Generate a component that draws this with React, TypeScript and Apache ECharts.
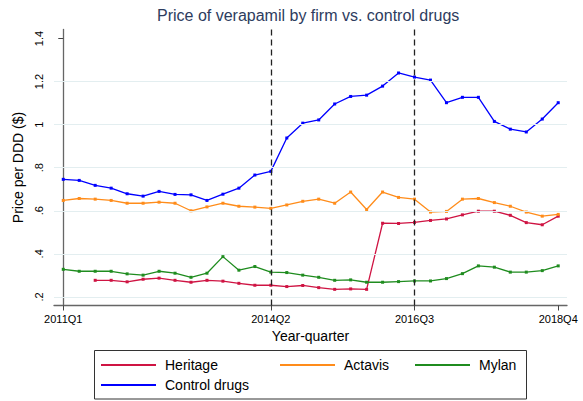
import React, { useEffect, useRef } from "react";
import * as echarts from "echarts";

const heritage = [null, null, 0.277, 0.277, 0.270, 0.282, 0.287, 0.277, 0.268, 0.277, 0.273, 0.263, 0.254, 0.254, 0.248, 0.253, 0.243, 0.235, 0.237, 0.235, 0.542, 0.541, 0.546, 0.555, 0.562, 0.581, 0.598, 0.598, 0.579, 0.545, 0.535, 0.575];
const actavis = [0.648, 0.657, 0.654, 0.648, 0.635, 0.635, 0.640, 0.635, 0.600, 0.618, 0.635, 0.621, 0.617, 0.611, 0.627, 0.644, 0.654, 0.635, 0.687, 0.606, 0.687, 0.662, 0.654, 0.594, 0.597, 0.654, 0.657, 0.638, 0.621, 0.594, 0.575, 0.583];
const mylan = [0.328, 0.319, 0.319, 0.319, 0.307, 0.301, 0.319, 0.310, 0.291, 0.310, 0.387, 0.324, 0.341, 0.315, 0.313, 0.301, 0.291, 0.277, 0.279, 0.268, 0.268, 0.271, 0.274, 0.274, 0.285, 0.308, 0.344, 0.338, 0.315, 0.315, 0.322, 0.344];
const control = [0.746, 0.741, 0.718, 0.705, 0.679, 0.668, 0.690, 0.676, 0.674, 0.648, 0.677, 0.705, 0.766, 0.783, 0.938, 1.007, 1.022, 1.096, 1.131, 1.137, 1.179, 1.240, 1.221, 1.207, 1.102, 1.127, 1.127, 1.015, 0.979, 0.966, 1.026, 1.102];

const xTickIdx = [0, 13, 22, 31];
const xTickLabels = ["2011Q1", "2014Q2", "2016Q3", "2018Q4"];
const eventIdx = [13, 22];
const yTicks = [0.2, 0.4, 0.6, 0.8, 1, 1.2, 1.4];
const yTickLabels = [".2", ".4", ".6", ".8", "1", "1.2", "1.4"];
const gridValues = [0.2, 0.4, 0.6, 0.8, 1, 1.2];

const seriesNames = ["Heritage", "Actavis", "Mylan", "Control drugs"];
const seriesColors = ["#cf1443", "#ff8c1a", "#1f8c1f", "#0000ff"];
const seriesData = [heritage, actavis, mylan, control];

const FONT = "'Liberation Sans', Arial, Helvetica, sans-serif";

export default function App() {
  const ref = useRef<HTMLDivElement>(null);
  useEffect(() => {
    if (!ref.current) return;
    const chart = echarts.init(ref.current, null, { renderer: "svg" });
    const lineSeries = seriesData.map((arr, k) => ({
      name: seriesNames[k],
      type: "line",
      data: arr.map((v, i) => [i, v]),
      symbol: "rect",
      symbolSize: 3,
      showAllSymbol: true,
      connectNulls: false,
      z: 3,
      lineStyle: { color: seriesColors[k], width: 1.3 },
      itemStyle: { color: seriesColors[k] },
      emphasis: { disabled: true },
    }));
    const legendPos = [
      { left: 101, top: 358 },
      { left: 280, top: 358 },
      { left: 415, top: 358 },
      { left: 101, top: 378 },
    ];
    const legends = seriesNames.map((n, k) => ({
      data: [{ name: n, icon: "rect" }],
      left: legendPos[k].left,
      top: legendPos[k].top,
      padding: 0,
      itemWidth: 55,
      itemHeight: 2,
      selectedMode: false,
      textStyle: { fontFamily: FONT, fontSize: 14, color: "#000", padding: [0, 0, 0, 4] },
    }));
    chart.setOption({
      animation: false,
      title: {
        text: "Price of verapamil by firm vs. control drugs",
        left: 157,
        top: 7,
        padding: 0,
        textStyle: { fontFamily: FONT, fontSize: 16, fontWeight: "normal", color: "#2d3c5e" },
      },
      legend: legends,
      grid: { left: 54, right: 16, top: 29.5, bottom: 95.5, containLabel: false },
      xAxis: {
        type: "value",
        min: -0.58,
        max: 31.55,
        name: "Year-quarter",
        nameLocation: "middle",
        nameGap: 22,
        nameTextStyle: { fontFamily: FONT, fontSize: 14, color: "#000" },
        axisLine: { show: true, onZero: false, lineStyle: { color: "#666", width: 1.3 } },
        axisTick: { show: true, customValues: xTickIdx, length: 5, lineStyle: { color: "#444" } },
        axisLabel: {
          customValues: xTickIdx,
          margin: 8,
          fontFamily: FONT,
          fontSize: 11,
          color: "#000",
          formatter: (v: number) => xTickLabels[xTickIdx.indexOf(Math.round(v))] ?? "",
        },
        splitLine: { show: false },
      },
      yAxis: {
        type: "value",
        min: 0.16,
        max: 1.442,
        name: "Price per DDD ($)",
        nameLocation: "middle",
        nameGap: 27,
        nameRotate: 90,
        nameTextStyle: { fontFamily: FONT, fontSize: 14, color: "#000" },
        axisLine: { show: true, lineStyle: { color: "#666", width: 1.3 } },
        axisTick: { show: true, customValues: yTicks, length: 5, lineStyle: { color: "#444" } },
        axisLabel: {
          customValues: yTicks,
          rotate: 90,
          margin: 10,
          fontFamily: FONT,
          fontSize: 11,
          color: "#000",
          formatter: (v: number) => {
            const idx = yTicks.findIndex((t) => Math.abs(t - v) < 1e-6);
            return idx >= 0 ? yTickLabels[idx] : "";
          },
        },
        splitLine: { show: false },
      },
      graphic: [
        {
          type: "rect",
          shape: { x: 94.5, y: 350.5, width: 432, height: 48.5 },
          style: { fill: "none", stroke: "#333", lineWidth: 1 },
          silent: true,
        },
      ],
      series: [
        {
          name: "grid",
          type: "line",
          data: [],
          z: 1,
          silent: true,
          markLine: {
            silent: true,
            symbol: "none",
            label: { show: false },
            lineStyle: { color: "#e3eef0", width: 1, type: "solid" },
            data: gridValues.map((v) => ({ yAxis: v })),
          },
        },
        {
          name: "events",
          type: "line",
          data: [],
          z: 2,
          silent: true,
          markLine: {
            silent: true,
            symbol: "none",
            label: { show: false },
            lineStyle: { color: "#222", width: 1.3, type: [6, 4] },
            data: eventIdx.map((v) => ({ xAxis: v })),
          },
        },
        ...lineSeries,
      ],
    });
    return () => chart.dispose();
  }, []);
  return (
    <div
      ref={ref}
      style={{ position: "absolute", left: 0, top: 0, width: 583, height: 401, background: "#fff" }}
    />
  );
}
